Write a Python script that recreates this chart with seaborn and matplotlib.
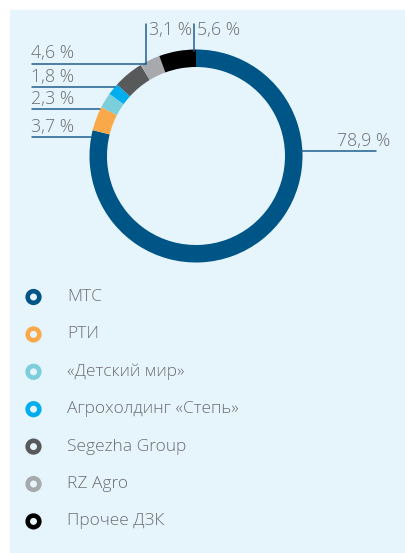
import numpy as np
import pandas as pd
import seaborn as sns
import matplotlib.pyplot as plt
from matplotlib.patches import Rectangle

# Data
companies = ['МТС', 'РТИ', '«Детский мир»', 'Агрохолдинг «Степь»',
             'Segezha Group', 'RZ Agro', 'Прочее ДЗК']
shares = [78.9, 3.7, 2.3, 1.8, 4.6, 3.1, 5.6]
share_labels = ['78,9 %', '3,7 %', '2,3 %', '1,8 %', '4,6 %', '3,1 %', '5,6 %']
colors = ['#005587', '#F9A94A', '#7ACFDB', '#00AEEF', '#58595B', '#A7A9AC', '#000000']

panel_color = '#E6F4FC'
line_color = '#1F5E8E'
text_color = '#6D6E71'

sns.set_style('white')
plt.rcParams['font.family'] = ['Open Sans', 'DejaVu Sans']

W, H = 405, 553
fig = plt.figure(figsize=(W / 100, H / 100), dpi=100, facecolor='white')
ax = fig.add_axes([0, 0, 1, 1])

# light blue panel
ax.add_patch(Rectangle((10, 0), W - 10, H - 10, color=panel_color, zorder=0))

# donut, image-pixel geometry converted to y-up
cx, cy, r = 196, H - 156, 106.5
ax.pie(shares, colors=colors, startangle=90, counterclock=False,
       radius=r, center=(cx, cy), frame=True,
       wedgeprops=dict(width=17.5, linewidth=0))

def ring_x(y_img, side):
    dy = (H - y_img) - cy
    return cx + side * np.sqrt(r ** 2 - dy ** 2)

lw = 1.1
fs = 12.8

# left labels: (label index, image y of leader line)
left_rows = [(4, 64), (3, 87), (2, 109), (1, 137)]
for i, y_img in left_rows:
    y = H - y_img
    x_end = 146 if i == 4 else ring_x(y_img, -1)
    ax.plot([32, x_end], [y, y], color=line_color, lw=lw, zorder=3)
    ax.text(31, y + 1.5, share_labels[i], color=text_color, fontsize=fs,
            ha='left', va='bottom', fontweight='light')

# right label (МТС)
y = H - 151
ax.plot([ring_x(151, 1) - 2, 376], [y, y], color=line_color, lw=lw, zorder=3)
ax.text(390, y + 1.5, share_labels[0], color=text_color, fontsize=fs,
        ha='right', va='bottom', fontweight='light')

# top labels with vertical leaders
ax.plot([146, 146], [H - 24, H - 64], color=line_color, lw=lw, zorder=3)
ax.text(149, H - 30, share_labels[5], color=text_color, fontsize=fs,
        ha='left', va='center', fontweight='light')
ax.plot([194, 194], [H - 24, H - 51], color=line_color, lw=lw, zorder=3)
ax.text(197, H - 30, share_labels[6], color=text_color, fontsize=fs,
        ha='left', va='center', fontweight='light')

# legend drawn as a seaborn scatter of ring markers
legend_df = pd.DataFrame({'company': companies,
                          'x': 33.5,
                          'y': H - (297 + 37.4 * np.arange(len(companies)))})
sns.scatterplot(data=legend_df, x='x', y='y', hue='company', palette=colors,
                marker='o', s=70, linewidth=0, legend=False, ax=ax, zorder=4)
for coll in ax.collections:
    coll.set_facecolor(panel_color)
    coll.set_edgecolor(colors)
    coll.set_linewidth(3.3)
for name, yy in zip(companies, legend_df['y']):
    ax.text(67, yy, name, color=text_color, fontsize=12.5, ha='left',
            va='center', fontweight='light')

ax.set_xlim(0, W)
ax.set_ylim(0, H)
ax.set_aspect('equal')
ax.set_xlabel('')
ax.set_ylabel('')
ax.axis('off')

fig.savefig('out.png', dpi=100, facecolor='white')
